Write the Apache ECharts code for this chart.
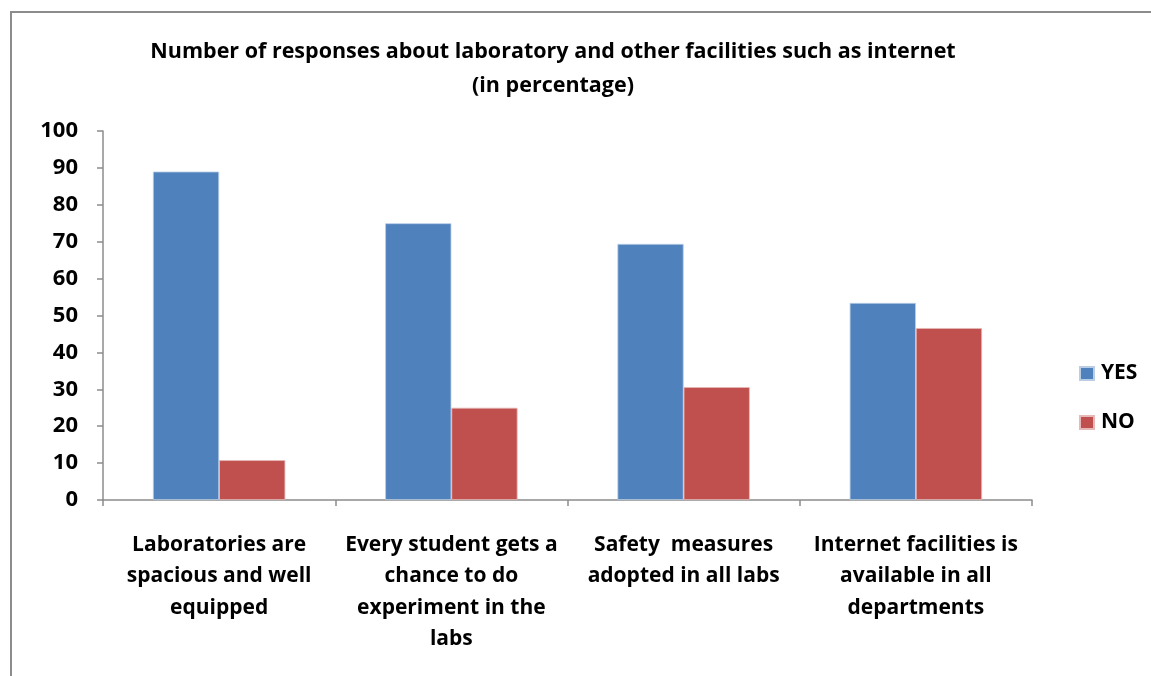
<!DOCTYPE html>
<html>
<head>
<meta charset="utf-8">
<script src="https://cdn.jsdelivr.net/npm/echarts@6/dist/echarts.min.js"></script>
<style>
  html, body { margin: 0; padding: 0; background: #fff; }
  #frame { position: absolute; left: 10px; top: 11px; width: 1160px; height: 700px; border: 2px solid #8c8c8c; box-sizing: border-box; }
  #main { position: absolute; left: 0; top: 0; width: 1151px; height: 676px; }
</style>
</head>
<body>
<div id="frame"></div>
<div id="main"></div>
<script>
const categories = [
  'Laboratories are\nspacious and well\nequipped',
  'Every student gets a\nchance to do\nexperiment in the\nlabs',
  'Safety  measures\nadopted in all labs',
  'Internet facilities is\navailable in all\ndepartments'
];
const yesValues = [89, 75, 69.4, 53.4];
const noValues = [10.8, 25, 30.6, 46.6];

const font = 'Open Sans';
const chart = echarts.init(document.getElementById('main'));
chart.setOption({
  animation: false,
  title: {
    text: 'Number of responses about laboratory and other facilities such as internet\n(in percentage)',
    left: 548,
    textAlign: 'center',
    top: 30,
    textStyle: { fontFamily: font, fontSize: 21.5, fontWeight: 'bold', color: '#000', lineHeight: 34 }
  },
  legend: {
    orient: 'vertical',
    left: 1074,
    top: 358,
    itemWidth: 14,
    itemHeight: 13,
    itemGap: 28,
    icon: 'rect',
    textStyle: { fontFamily: font, fontSize: 21, fontWeight: 'bold', color: '#000', lineHeight: 21, padding: [0, 0, 0, 2] },
    data: ['YES', 'NO']
  },
  grid: { left: 103, right: 119, top: 131, bottom: 176 },
  xAxis: {
    type: 'category',
    data: categories,
    axisLine: { lineStyle: { color: '#8c8c8c', width: 1.5 } },
    axisTick: { show: true, length: 6, lineStyle: { color: '#8c8c8c', width: 1.5 } },
    axisLabel: { interval: 0, margin: 29, fontFamily: font, fontSize: 21, fontWeight: 'bold', color: '#000', lineHeight: 31.5 }
  },
  yAxis: {
    type: 'value',
    min: 0,
    max: 100,
    interval: 10,
    axisLine: { show: true, lineStyle: { color: '#8c8c8c', width: 1.5 } },
    axisTick: { show: true, length: 6, lineStyle: { color: '#8c8c8c', width: 1.5 } },
    splitLine: { show: false },
    axisLabel: { margin: 25, fontFamily: font, fontSize: 22, fontWeight: 'bold', color: '#000' }
  },
  series: [
    {
      name: 'YES', type: 'bar', data: yesValues, barGap: '0%', barCategoryGap: '43%',
      itemStyle: { color: '#4f81bd', borderColor: '#b9cde5', borderWidth: 0.8 }
    },
    {
      name: 'NO', type: 'bar', data: noValues,
      itemStyle: { color: '#c0504d', borderColor: '#e6b9b8', borderWidth: 0.8 }
    }
  ]
});
</script>
</body>
</html>
